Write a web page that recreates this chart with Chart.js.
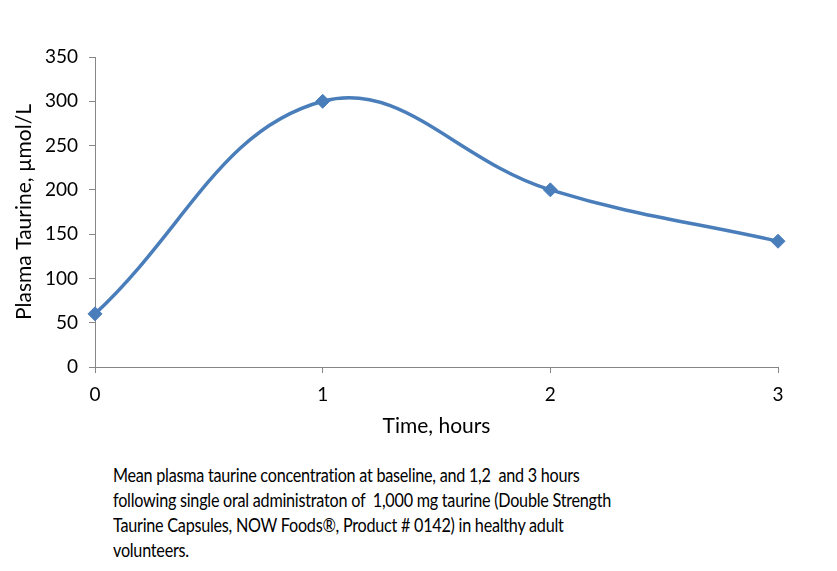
<!DOCTYPE html>
<html>
<head>
<meta charset="utf-8">
<script src="https://cdn.jsdelivr.net/npm/chart.js@4.4.1/dist/chart.umd.min.js"></script>
<style>
  body { margin: 0; background: #ffffff; }
  #wrap { position: relative; width: 837px; height: 571px; }
  #chartTaurina { position: absolute; left: 0; top: 0; }
  #nota {
    position: absolute; left: 113px; top: 462px;
    font-family: Lato, "Open Sans", sans-serif; font-size: 19.5px;
    line-height: 25px; color: #000; white-space: pre; letter-spacing: -0.3px;
    transform: scaleX(0.83); transform-origin: 0 0;
  }
</style>
</head>
<body>
<div id="wrap">
  <canvas id="chartTaurina" width="837" height="440"></canvas>
  <div id="nota">Mean plasma taurine concentration at baseline, and 1,2  and 3 hours
following single oral administraton of  1,000 mg taurine (Double Strength
Taurine Capsules, NOW Foods®, Product # 0142) in healthy adult
volunteers.</div>
</div>
<script>
const horas = [0, 1, 2, 3];
const taurina = [60, 300, 200, 142];
const ticksX = ["0", "1", "2", "3"];

const colorLinea = "#4a7ebb";
const colorEje = "#868686";
const fuente = "Lato, 'Open Sans', sans-serif";

document.addEventListener("DOMContentLoaded", () => {
    const ctx = document.getElementById("chartTaurina");

    new Chart(ctx, {
        type: "line",
        data: {
            datasets: [{
                label: "Plasma Taurine",
                data: horas.map((h, i) => ({ x: h, y: taurina[i] })),
                borderColor: colorLinea,
                backgroundColor: colorLinea,
                borderWidth: 3.5,
                tension: 0.4,
                pointStyle: "rectRot",
                pointRadius: 7,
                pointBorderWidth: 1,
                clip: false,
                fill: false
            }]
        },
        options: {
            responsive: false,
            animation: false,
            layout: { padding: { left: 0, right: 59, top: 57, bottom: 0 } },
            plugins: {
                legend: { display: false },
                tooltip: { enabled: false }
            },
            scales: {
                x: {
                    type: "linear",
                    min: 0,
                    max: 3,
                    afterFit: scale => { scale.height = 73; },
                    border: { color: colorEje, width: 1 },
                    grid: { drawOnChartArea: false, drawTicks: true, tickLength: 6, color: colorEje },
                    ticks: {
                        stepSize: 1,
                        padding: 10,
                        color: "#000",
                        font: { family: fuente, size: 19 },
                        callback: v => ticksX[v]
                    },
                    title: {
                        display: true,
                        text: "Time, hours",
                        color: "#000",
                        font: { family: fuente, size: 21 },
                        padding: { top: 0, bottom: 1 }
                    }
                },
                y: {
                    min: 0,
                    max: 350,
                    afterFit: scale => { scale.width = 95; },
                    border: { color: colorEje, width: 1 },
                    grid: { drawOnChartArea: false, drawTicks: true, tickLength: 6, color: colorEje },
                    ticks: {
                        stepSize: 50,
                        padding: 11,
                        color: "#000",
                        font: { family: fuente, size: 19 }
                    },
                    title: {
                        display: true,
                        text: "Plasma Taurine, µmol/L",
                        color: "#000",
                        font: { family: fuente, size: 21 },
                        padding: { top: 12, bottom: 0 }
                    }
                }
            }
        }
    });
});
</script>
</body>
</html>
